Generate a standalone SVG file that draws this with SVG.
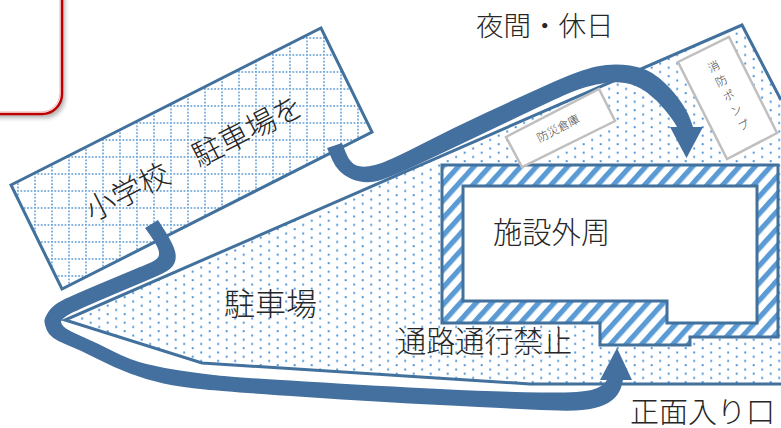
<svg xmlns="http://www.w3.org/2000/svg" width="781" height="428" viewBox="0 0 781 428">
<style>
text{font-family:"Noto Sans CJK JP","Noto Sans",sans-serif;font-weight:300;fill:#262626}
.label{fill:#fff;stroke:#bfbfbf;stroke-width:2.5}
.small{font-size:11.5px;fill:#404040}
.flow{fill:#44709f}
</style>
<defs>
<filter id="sh" x="-20%" y="-20%" width="140%" height="140%"><feGaussianBlur stdDeviation="2"/></filter>
<pattern id="grid" patternUnits="userSpaceOnUse" x="0" y="3" width="17" height="17">
<path d="M0 1H17M1 0V17" fill="none" stroke="#5b9bd5" stroke-width="1.5" stroke-dasharray="1.8 1.6"/>
</pattern>
<pattern id="dots" patternUnits="userSpaceOnUse" x="0" y="6.2" width="17" height="8.5">
<rect x="4.7" y="1" width="2" height="2" fill="#4f97da"/>
<rect x="13.2" y="5.25" width="2" height="2" fill="#4f97da"/>
</pattern>
<pattern id="hatch" patternUnits="userSpaceOnUse" width="11.6" height="11.6" patternTransform="translate(452.3 173.3) rotate(42) translate(-2.6 0)">
<rect width="11.6" height="11.6" fill="#fff"/>
<rect width="5.2" height="11.6" fill="#5b9bd5"/>
</pattern>
</defs>
<g id="notice">
<rect x="-30" y="-30" width="94" height="146" rx="20" fill="#777" opacity=".55" filter="url(#sh)" transform="translate(1,2)"/>
<rect x="-30" y="-30" width="92" height="144" rx="20" fill="#fff" stroke="#c00000" stroke-width="2.5"/>
<rect x="-30" y="-30" width="90" height="142" rx="19" fill="none" stroke="#eeb0b0" stroke-width="1"/>
</g>
<g id="school">
<path d="M11 185L321 28L372 132L62 289Z" fill="#fff"/>
<path d="M11 185L321 28L372 132L62 289Z" fill="url(#grid)"/>
<path d="M11 185L321 28L372 132L62 289Z" fill="none" stroke="#41719c" stroke-width="3"/>
<text style="font-size:30px" transform="translate(92 222) rotate(-27)">小学校　駐車場を</text>
</g>
<g id="parking">
<path d="M65 320L742 25L781 100V384H530L202 363Z" fill="#fff"/>
<path d="M65 320L742 25L781 100V384H530L202 363Z" fill="url(#dots)"/>
<path d="M781 100L742 25L65 320L202 363L530 384H781" fill="none" stroke="#41719c" stroke-width="3"/>
<text style="font-size:31px" x="224" y="315">駐車場</text>
</g>
<g id="building">
<path d="M442 165H778V337H690V345H600V323H442Z" fill="url(#hatch)" stroke="#41719c" stroke-width="3"/>
<path d="M463 186H757V323H667V301H463Z" fill="#fff" stroke="#41719c" stroke-width="3"/>
<text style="font-size:29.3px" x="493" y="243">施設外周</text>
</g>
<g id="no-entry"><text style="font-size:29.2px" x="397" y="352">通路通行禁止</text></g>
<g id="storage">
<path class="label" d="M506 137L599 89L615 121L522 167Z"/>
<text class="small" text-anchor="middle" transform="translate(560 132) rotate(-27)">防災倉庫</text>
</g>
<g id="pump">
<path class="label" d="M678 62L729 37L777 133L727 159Z"/>
<text class="small" style="writing-mode:vertical-rl;letter-spacing:5px" transform="translate(711 61) rotate(-27)">消防ポンプ</text>
</g>
<g id="connectors">
<path class="flow" d="M327 148L342 143L346 153Q350 163 356.5 165.5Q363 168 375 165Q387 162 420 145Q453 128 486.5 112.5Q520 97 550 83.5Q580 70 596.5 66.5Q613 63 630 65.5Q647 68 658.5 77.5Q670 87 678.5 98.5Q687 110 690 118.5L693 127H703L686.5 158L670 127H677L675 123.5Q673 120 665 110Q657 100 647 92.5Q637 85 625 83Q613 81 596.5 84.5Q580 88 563.5 95.5Q547 103 500 125.5Q453 148 420 163.5Q387 179 375 181.5Q363 184 350.5 178.5Q338 173 332.5 160.5Z"/>
<path class="flow" d="M145 228L158 220L165 231Q172 242 174.5 249.5Q177 257 174.5 263Q172 269 162.5 273.5Q153 278 135 285.5Q117 293 95 302.5Q73 312 68 315Q63 318 61.5 320.5Q60 323 63.5 326.5Q67 330 82 336.5Q97 343 113.5 351.5Q130 360 146.5 364Q163 368 180 370.5Q197 373 213.5 375Q230 377 305 381.5Q380 386 440 389Q500 392 540 392.5Q580 393 591.5 390Q603 387 607 380H600L617 348L632 380H623L621.5 386Q620 392 615 397.5Q610 403 600 406.5Q590 410 575 410.5Q560 411 530 409.5Q500 408 440 405Q380 402 305 397Q230 392 205 389.5Q180 387 163.5 383.5Q147 380 130 373.5Q113 367 96.5 358.5Q80 350 65 344Q50 338 47 330.5Q44 323 44.5 320Q45 317 49 311Q53 305 63 300Q73 295 106.5 281Q140 267 148.5 263.5Q157 260 158.5 256.5Q160 253 157.5 247.5Q155 242 150 235Z"/>
</g>
<text style="font-size:27.5px" x="476" y="36">夜間・休日</text>
<text style="font-size:29px" x="630" y="423">正面入り口</text>
</svg>
